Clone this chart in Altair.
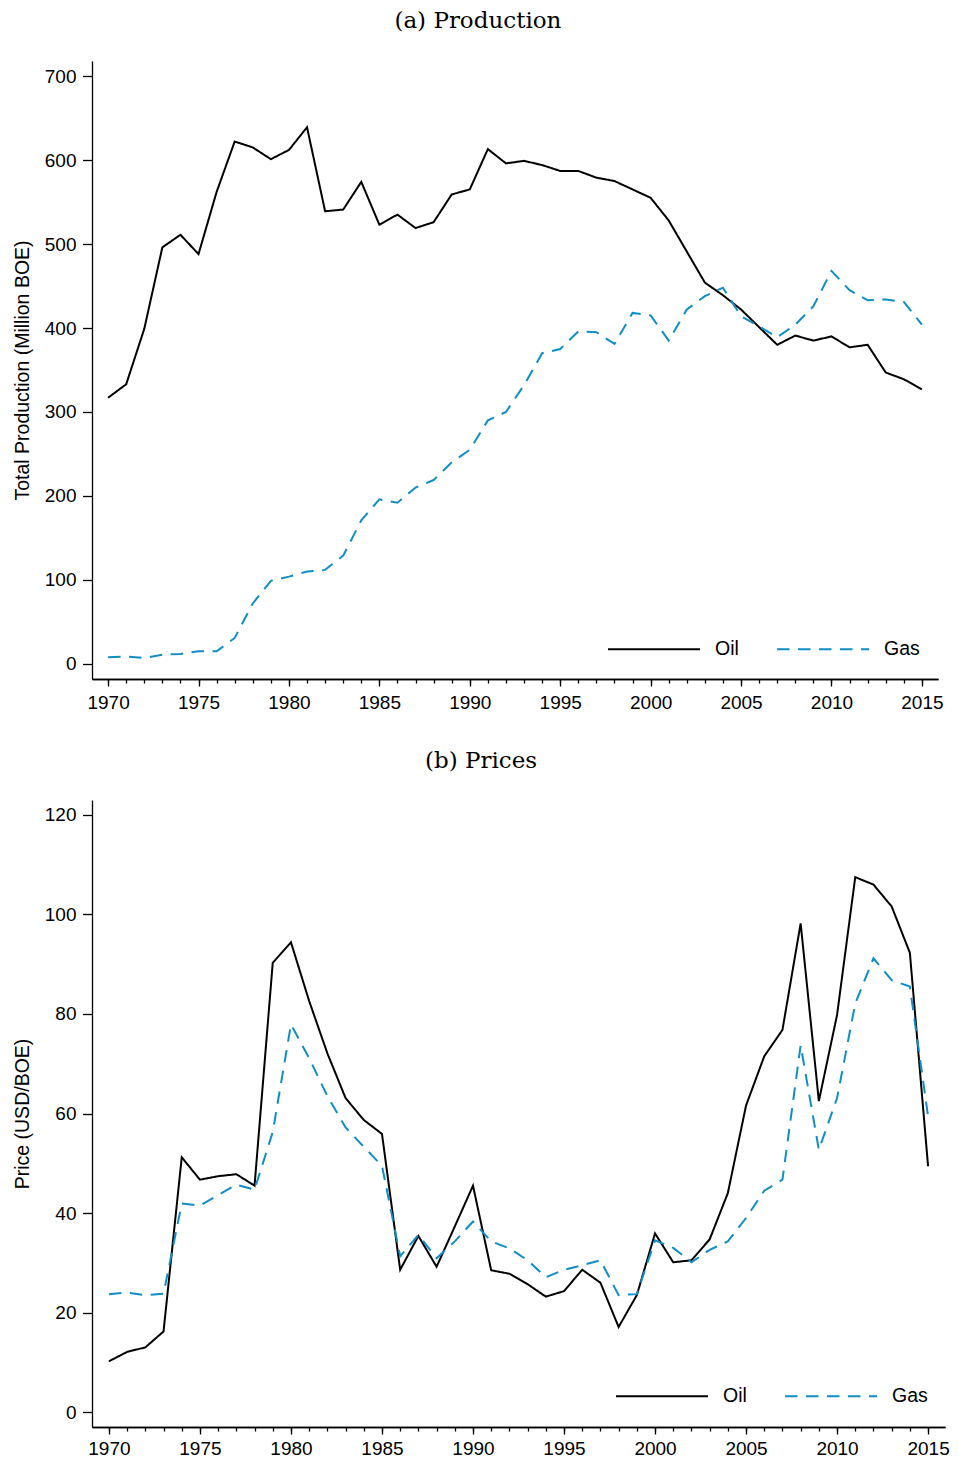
import pandas as pd
import altair as alt

years = list(range(1970, 2016))

oil_prod = [317, 333, 399, 496, 511, 488, 562, 622, 615, 601, 612, 639, 539, 541, 574, 523,
            535, 519, 526, 559, 565, 613, 596, 599, 594, 587, 587, 579, 575, 565, 555, 528,
            491, 454, 439, 422, 401, 380, 391, 385, 390, 377, 380, 347, 339, 327]
gas_prod = [8, 9, 7, 11, 12, 15, 15, 31, 72, 99, 104, 110, 112, 129, 171, 196,
            192, 210, 219, 240, 255, 290, 300, 332, 370, 375, 396, 395, 381, 418, 415, 385,
            422, 438, 448, 414, 402, 389, 404, 426, 468, 445, 433, 434, 431, 404]

oil_price = [10.2, 12.1, 13.0, 16.2, 51.2, 46.7, 47.4, 47.8, 45.5, 90.3, 94.4, 82.6, 72.1, 63.1, 58.7, 55.9,
             28.6, 35.4, 29.2, 37.3, 45.5, 28.5, 27.8, 25.7, 23.2, 24.3, 28.6, 26.0, 17.1, 23.5, 35.9, 30.1,
             30.5, 34.7, 44.0, 61.6, 71.5, 76.8, 98.2, 62.5, 79.8, 107.5, 106.0, 101.6, 92.3, 49.4]
gas_price = [23.7, 24.0, 23.5, 23.8, 41.9, 41.5, 43.6, 45.7, 44.7, 56.3, 77.9, 71.1, 63.5, 57.2, 53.3, 49.5,
             31.3, 35.6, 30.9, 34.3, 38.3, 34.3, 32.9, 30.5, 27.1, 28.6, 29.5, 30.5, 23.5, 23.7, 34.5, 33.0,
             30.1, 32.6, 34.3, 39.0, 44.5, 46.7, 73.7, 52.7, 63.1, 82.1, 91.2, 86.8, 85.5, 59.4]

series = ["Oil", "Gas"]
major_years = list(range(1970, 2016, 5))

prod_df = pd.DataFrame({
    "year": years * 2,
    "series": ["Oil"] * len(years) + ["Gas"] * len(years),
    "value": oil_prod + gas_prod,
})
price_df = pd.DataFrame({
    "year": years * 2,
    "series": ["Oil"] * len(years) + ["Gas"] * len(years),
    "value": oil_price + gas_price,
})

BLUE = "#0f8ec6"
SANS = "Liberation Sans"


def legend(lx, ly):
    # stroke symbols: sqrt(size) = line length (~92px)
    return alt.Legend(title=None, orient="none", direction="horizontal",
                      legendX=lx, legendY=ly, symbolType="stroke",
                      symbolSize=8464, symbolStrokeWidth=2,
                      labelOffset=14, columnPadding=34,
                      labelFontSize=19.5, labelFont=SANS, labelColor="black")


def panel(df, title, ytitle, ydomain, yvalues, xdomain, w, h, lx, ly, xpad, toff):
    xscale = alt.Scale(domain=xdomain, nice=False, zero=False)
    lines = alt.Chart(df).mark_line(strokeWidth=2).encode(
        x=alt.X("year:Q", scale=xscale,
                axis=alt.Axis(values=major_years, format="d", title=None, orient="bottom",
                              tickSize=7, labelPadding=xpad)),
        y=alt.Y("value:Q", scale=alt.Scale(domain=ydomain, nice=False, zero=False),
                axis=alt.Axis(values=yvalues, title=ytitle, tickSize=9.5, labelPadding=6.5,
                              titlePadding=11.5)),
        color=alt.Color("series:N", scale=alt.Scale(domain=series, range=["black", BLUE]),
                        legend=legend(lx, ly)),
        strokeDash=alt.StrokeDash("series:N",
                                  scale=alt.Scale(domain=series, range=[[1, 0], [12.5, 8.5]]),
                                  legend=legend(lx, ly)),
    )
    # minor ticks every year
    minor = alt.Chart(df).mark_point(opacity=0).encode(
        x=alt.X("year:Q", scale=xscale,
                axis=alt.Axis(values=years, labels=False, title=None, orient="bottom",
                              tickSize=4)),
    )
    return alt.layer(lines, minor).resolve_scale(x="shared").resolve_axis(x="independent").properties(
        width=w, height=h,
        title=alt.TitleParams(title, font="DejaVu Serif", fontSize=23, fontWeight="normal",
                              anchor="middle", frame="bounds", offset=toff, color="black"),
    )


top = panel(prod_df, "(a) Production", "Total Production (Million BOE)",
            [-17.9, 717.9], list(range(0, 701, 100)), [1969.11, 2015.89],
            846, 618, 515, 541, 7, 28.5)
bottom = panel(price_df, "(b) Prices", "Price (USD/BOE)",
               [-3, 123], list(range(0, 121, 20)), [1969.07, 2015.93],
               853, 627, 523, 549, 5, 27.5)

chart = alt.vconcat(top, bottom, spacing=37).resolve_legend(
    color="independent", strokeDash="independent"
).properties(
    padding={"left": 4, "top": 1, "right": 0, "bottom": 0}
).configure_axis(
    grid=False, domainColor="black", domainWidth=1.3, tickColor="black", tickWidth=1.3,
    labelFont=SANS, labelFontSize=19, labelColor="black",
    titleFont=SANS, titleFontSize=19.5, titleFontWeight="normal", titleColor="black",
).configure_view(strokeWidth=0)

chart.save("out.html", embed_options={"renderer": "svg", "actions": False})
